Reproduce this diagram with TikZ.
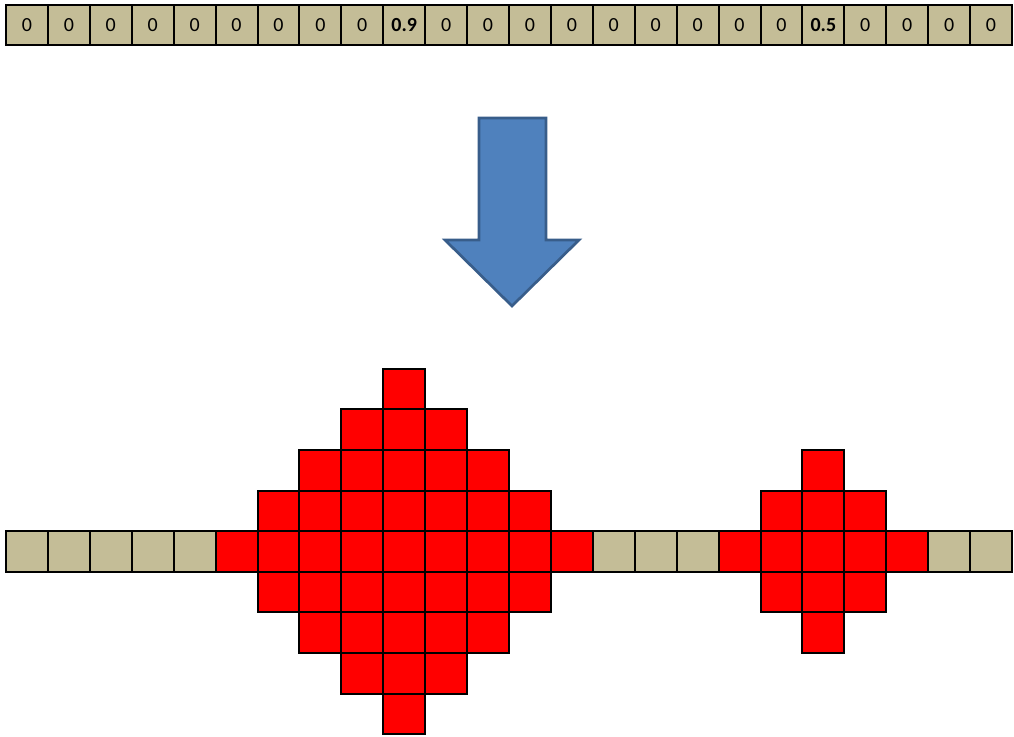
\documentclass[tikz,border=0pt]{standalone}
\usepackage{fontspec}
\setmainfont{Carlito}
\definecolor{tancol}{HTML}{C4BD97}
\definecolor{arrowfill}{HTML}{4F81BD}
\definecolor{arrowline}{HTML}{385D8A}
\begin{document}
\begin{tikzpicture}[x=0.75pt,y=-0.75pt,
  cellbase/.style={draw=black, line width=1.5pt, minimum width=31.44pt, inner sep=0pt, outer sep=0pt, font=\fontsize{15}{18}\selectfont},
  topcell/.style={cellbase, fill=tancol, minimum height=30pt},
  tancell/.style={cellbase, fill=tancol, minimum height=30.45pt},
  redcell/.style={cellbase, fill=red, minimum height=30.45pt},
  bigarrow/.style={fill=arrowfill, draw=arrowline, line width=2pt, line join=miter}
]
\useasboundingbox (0,0) rectangle (1014,736);
% top row
\foreach \i in {0,...,23} {
  \pgfmathsetmacro\cx{6+41.917*(\i+0.5)}
  \node[topcell] (t\i) at (\cx,25) {\ifnum\i=9 \textbf{0.9}\else\ifnum\i=19 \textbf{0.5}\else 0\fi\fi};
}
% arrow
\draw[bigarrow] (479,118) -- (546,118) -- (546,240) -- (579,240) -- (512,306) -- (445,240) -- (479,240) -- cycle;
% bottom row
\foreach \i in {0,...,23} {
  \pgfmathsetmacro\cx{6+41.917*(\i+0.5)}
  \pgfmathtruncatemacro\isred{(\i>4)*(\i<14)+(\i>16)*(\i<22)}
  \ifnum\isred=1
    \node[redcell] (b\i) at (\cx,551.5) {};
  \else
    \node[tancell] (b\i) at (\cx,551.5) {};
  \fi
}
% diamonds
\foreach \c/\R/\n in {9/4/a,19/2/b} {
  \foreach \dx in {-4,...,4} {
    \foreach \dy in {-4,...,4} {
      \pgfmathtruncatemacro\ok{(abs(\dx)+abs(\dy)<=\R)*(\dy!=0)}
      \ifnum\ok=1
        \pgfmathsetmacro\cx{6+41.917*(\c+\dx+0.5)}
        \pgfmathsetmacro\cy{551.5+40.6*\dy}
        \pgfmathtruncatemacro\col{\c+\dx}
        \pgfmathtruncatemacro\row{\dy+4}
        \node[redcell] (\n\col-\row) at (\cx,\cy) {};
      \fi
    }
  }
}
\end{tikzpicture}
\end{document}
